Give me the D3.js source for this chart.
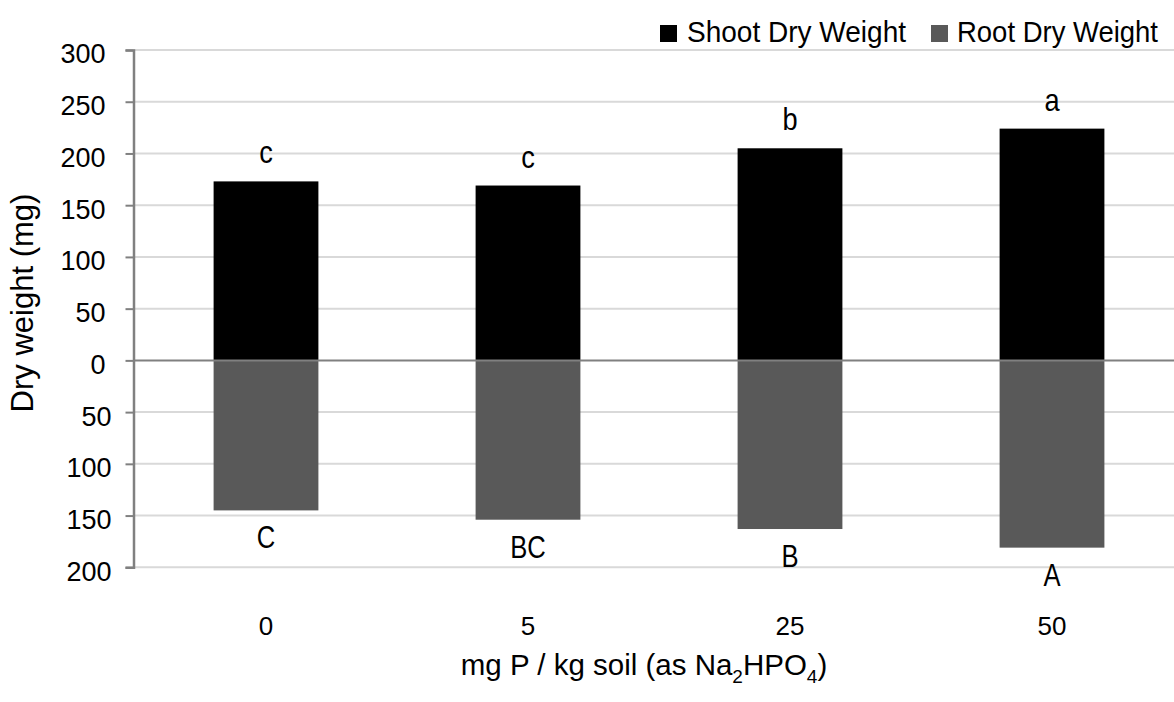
<!DOCTYPE html>
<html>
<head>
<meta charset="utf-8">
<script src="https://cdn.jsdelivr.net/npm/d3@7/dist/d3.min.js"></script>
<style>
  html, body { margin: 0; padding: 0; background: #fff; }
  svg { display: block; }
</style>
</head>
<body>
<script>
// Phosphorus rates (mg P / kg soil)
const categories = ["0", "5", "25", "50"];
// Dry weights (mg)
const shootDry = [173, 169, 205, 224];
const rootDry = [145, 154, 163, 181];
// Significance letters
const shootLetters = ["c", "c", "b", "a"];
const rootLetters = ["C", "BC", "B", "A"];
// Y axis ticks (roots plotted downward, labelled by magnitude)
const yTicks = [-200, -150, -100, -50, 0, 50, 100, 150, 200, 250, 300];
const seriesNames = ["Shoot Dry Weight", "Root Dry Weight"];

const W = 1174, H = 702;
const plotLeft = 133.5, plotTop = 50, plotBottom = 567.3;
const colors = { shoot: "#000000", root: "#595959" };
const font = "'Liberation Sans', Arial, sans-serif";

// Squeeze a text horizontally to a fraction of its natural width
function condense(sel, factor) {
  sel.each(function () {
    const w = this.getComputedTextLength();
    d3.select(this).attr("textLength", w * factor).attr("lengthAdjust", "spacingAndGlyphs");
  });
}

const svg = d3.select("body").append("svg")
  .attr("width", W).attr("height", H);

const y = d3.scaleLinear().domain([-200, 300]).range([plotBottom, plotTop]);
const x = d3.scaleBand().domain(categories).range([135, 1183])
  .paddingInner(0.6).paddingOuter(0.3);

// Gridlines
svg.append("g").selectAll("line").data(yTicks.filter(t => t !== 0)).join("line")
  .attr("x1", plotLeft).attr("x2", W)
  .attr("y1", d => y(d)).attr("y2", d => y(d))
  .attr("stroke", "#d9d9d9").attr("stroke-width", 2);

// Shoot bars (upward)
svg.append("g").selectAll("rect").data(categories).join("rect")
  .attr("x", d => x(d)).attr("width", x.bandwidth())
  .attr("y", (d, i) => y(shootDry[i]))
  .attr("height", (d, i) => y(0) - y(shootDry[i]))
  .attr("fill", colors.shoot);

// Root bars (downward)
svg.append("g").selectAll("rect").data(categories).join("rect")
  .attr("x", d => x(d)).attr("width", x.bandwidth())
  .attr("y", y(0))
  .attr("height", (d, i) => y(-rootDry[i]) - y(0))
  .attr("fill", colors.root);

// Zero line
svg.append("line")
  .attr("x1", plotLeft).attr("x2", W).attr("y1", y(0)).attr("y2", y(0))
  .attr("stroke", "#808080").attr("stroke-width", 2);

// Y axis
const yAxis = d3.axisLeft(y).tickValues(yTicks).tickSize(8)
  .tickFormat(d => String(Math.abs(d)));
const gy = svg.append("g").attr("transform", `translate(${plotLeft},0)`).call(yAxis);
gy.select(".domain").attr("stroke", "#808080").attr("stroke-width", 2.5);
gy.selectAll(".tick line").attr("stroke", "#808080").attr("stroke-width", 2);
gy.selectAll(".tick text")
  .attr("x", d => d < 0 ? -22 : -28)
  .attr("dy", "0.48em")
  .attr("fill", "#000")
  .style("font-family", font).style("font-size", "27px");

// Category labels
svg.append("g").selectAll("text").data(categories).join("text")
  .attr("x", d => x(d) + x.bandwidth() / 2).attr("y", 635)
  .attr("text-anchor", "middle")
  .style("font-family", font).style("font-size", "26px")
  .text(d => d);

// Letters above shoot bars and below root bars
svg.append("g").selectAll("text").data(categories).join("text")
  .attr("x", d => x(d) + x.bandwidth() / 2)
  .attr("y", (d, i) => y(shootDry[i]) - 18)
  .attr("text-anchor", "middle")
  .style("font-family", font).style("font-size", "32px")
  .text((d, i) => shootLetters[i])
  .call(condense, 0.85);
svg.append("g").selectAll("text").data(categories).join("text")
  .attr("x", d => x(d) + x.bandwidth() / 2)
  .attr("y", (d, i) => y(-rootDry[i]) + 38)
  .attr("text-anchor", "middle")
  .style("font-family", font).style("font-size", "32px")
  .text((d, i) => rootLetters[i])
  .call(condense, 0.8);

// Y axis title
svg.append("text")
  .attr("transform", "translate(33,303) rotate(-90)")
  .attr("text-anchor", "middle")
  .style("font-family", font).style("font-size", "31px")
  .text("Dry weight (mg)");

// X axis title with subscripts
const xt = svg.append("text")
  .attr("x", 644).attr("y", 675)
  .attr("text-anchor", "middle")
  .style("font-family", font).style("font-size", "29.5px");
xt.append("tspan").text("mg P / kg soil (as Na");
xt.append("tspan").text("2").attr("dy", 8).style("font-size", "19px");
xt.append("tspan").text("HPO").attr("dy", -8);
xt.append("tspan").text("4").attr("dy", 8).style("font-size", "19px");
xt.append("tspan").text(")").attr("dy", -8);

// Legend
const legendItems = [
  { name: seriesNames[0], color: colors.shoot, sx: 660, tx: 687, len: 219 },
  { name: seriesNames[1], color: colors.root, sx: 931, tx: 957, len: 201 }
];
const lg = svg.append("g").selectAll("g").data(legendItems).join("g");
lg.append("rect")
  .attr("x", d => d.sx).attr("y", 25).attr("width", 17).attr("height", 17)
  .attr("fill", d => d.color);
lg.append("text")
  .attr("x", d => d.tx).attr("y", 42)
  .attr("textLength", d => d.len).attr("lengthAdjust", "spacingAndGlyphs")
  .style("font-family", font).style("font-size", "29px")
  .text(d => d.name);
</script>
</body>
</html>
